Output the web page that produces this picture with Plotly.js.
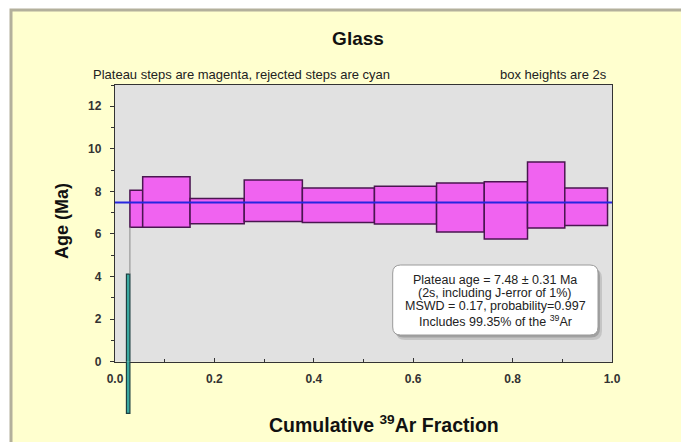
<!DOCTYPE html>
<html>
<head>
<meta charset="utf-8">
<script src="https://cdn.plot.ly/plotly-3.0.1.min.js"></script>
<style>html,body{margin:0;padding:0;background:#fff;}#chart{width:681px;height:442px;}</style>
</head>
<body>
<div id="chart"></div>
<script>
// ---- data ----
const plateauEdges = [0.030, 0.0557, 0.151, 0.260, 0.377, 0.522, 0.647, 0.743, 0.830, 0.905, 0.991];
const plateauLow   = [6.32, 6.32, 6.48, 6.59, 6.54, 6.47, 6.09, 5.77, 6.28, 6.40];
const plateauHigh  = [8.05, 8.69, 7.67, 8.54, 8.16, 8.24, 8.40, 8.46, 9.38, 8.16];
const rejectedEdges = [0.023, 0.030];
const rejectedLow   = [-2.43];
const rejectedHigh  = [4.11];
const plateauAge = 7.48;
const xTickVals = [0, 0.2, 0.4, 0.6, 0.8, 1.0];
const yTickVals = [0, 2, 4, 6, 8, 10, 12];
const boxLines = [
  'Plateau age = 7.48 ± 0.31 Ma',
  '(2s, including J-error of 1%)',
  'MSWD = 0.17, probability=0.997',
  'Includes 99.35% of the <sup>39</sup>Ar'
];

// ---- derived inputs for the library ----
function centers(e){ const c=[]; for(let i=0;i<e.length-1;i++) c.push((e[i]+e[i+1])/2); return c; }
function widths(e){ const w=[]; for(let i=0;i<e.length-1;i++) w.push(e[i+1]-e[i]); return w; }
function spans(lo,hi){ return hi.map((h,i)=>h-lo[i]); }

// ---- layout geometry helpers (pixels -> paper) ----
const M = {l:115, r:69, t:85, b:20};
const PW = 681 - M.l - M.r, PH = 442 - M.t - M.b;
const px = v => (v - M.l) / PW;
const py = v => (442 - M.b - v) / PH;
function rrect(x0,y0,x1,y1,r){
  const P=(x,y)=>px(x)+','+py(y);
  return 'M'+P(x0+r,y0)+' L'+P(x1-r,y0)+' Q'+P(x1,y0)+' '+P(x1,y0+r)+
         ' L'+P(x1,y1-r)+' Q'+P(x1,y1)+' '+P(x1-r,y1)+
         ' L'+P(x0+r,y1)+' Q'+P(x0,y1)+' '+P(x0,y1-r)+
         ' L'+P(x0,y0+r)+' Q'+P(x0,y0)+' '+P(x0+r,y0)+' Z';
}

const FONT = 'Liberation Sans, Arial, sans-serif';
const magenta = '#f063f0', magLine = '#4a1650';
const cyanFill = '#3aa8a0', cyanLine = '#1d3f40';

const traces = [
  {type:'bar', x:centers(plateauEdges), y:spans(plateauLow,plateauHigh), base:plateauLow,
   width:widths(plateauEdges), marker:{color:magenta, line:{color:magLine, width:1.5}},
   xaxis:'x', yaxis:'y', hoverinfo:'skip', showlegend:false},
  {type:'bar', x:centers(rejectedEdges), y:spans(rejectedLow,rejectedHigh), base:rejectedLow,
   width:widths(rejectedEdges), marker:{color:cyanFill, line:{color:cyanLine, width:1.2}},
   xaxis:'x', yaxis:'y', hoverinfo:'skip', showlegend:false},
  {type:'bar', x:centers(rejectedEdges), y:spans(rejectedLow,rejectedHigh), base:rejectedLow,
   width:widths(rejectedEdges), marker:{color:cyanFill, line:{color:cyanLine, width:1.2}},
   xaxis:'x2', yaxis:'y2', hoverinfo:'skip', showlegend:false},
  {type:'scatter', mode:'lines', x:[rejectedEdges[1], plateauEdges[0]], y:[rejectedHigh[0], plateauLow[0]],
   line:{color:'#8a8a8a', width:1}, xaxis:'x', yaxis:'y', hoverinfo:'skip', showlegend:false},
  {type:'scatter', mode:'lines', x:[0, 1], y:[plateauAge, plateauAge],
   line:{color:'#2626e0', width:2}, xaxis:'x', yaxis:'y', hoverinfo:'skip', showlegend:false}
];

const mainBottom = 361.7;
const yDomLo = py(mainBottom);
const unit = (mainBottom - M.t) / 13;
const lowerBottom = mainBottom + 2.6*unit;

const annotations = [
  {text:'Plateau steps are magenta, rejected steps are cyan', xref:'paper', yref:'paper',
   x:px(91), y:py(74), xanchor:'left', yanchor:'middle', showarrow:false,
   font:{family:FONT, size:13, color:'#222'}},
  {text:'box heights are 2s', xref:'paper', yref:'paper',
   x:px(609), y:py(74), xanchor:'right', yanchor:'middle', showarrow:false,
   font:{family:FONT, size:13, color:'#222'}},
  {text:'Cumulative <sup>39</sup>Ar Fraction', xref:'paper', yref:'paper',
   x:px(384), y:py(424), xanchor:'center', yanchor:'middle', showarrow:false,
   font:{family:FONT, size:19.5, color:'#111', weight:'bold'}},
  {text:'Age (Ma)', xref:'paper', yref:'paper', textangle:-90,
   x:px(62), y:py(221), xanchor:'center', yanchor:'middle', showarrow:false,
   font:{family:FONT, size:18, color:'#111', weight:'bold'}}
];
const lineY = [280, 293.3, 306.2, 320.5];
boxLines.forEach((t,i)=>annotations.push({text:t, xref:'paper', yref:'paper',
  x:px(495), y:py(lineY[i]), xanchor:'center', yanchor:'middle', showarrow:false,
  font:{family:FONT, size:12.5, color:'#222'}}));

const shapes = [
  // yellow panel with grey edge
  {type:'rect', xref:'paper', yref:'paper', x0:px(11), x1:px(720), y0:py(470), y1:py(10),
   fillcolor:'#ffffcf', line:{color:'#b3b09c', width:3}, layer:'below'},
  // grey plot area
  {type:'rect', xref:'x domain', yref:'y domain', x0:0, x1:1, y0:0, y1:1,
   fillcolor:'#e1e1e1', line:{width:0}, layer:'below'},
  // stats box shadow + box
  {type:'path', xref:'paper', yref:'paper', path:rrect(396,269,602,340,9),
   fillcolor:'rgba(0,0,0,0.12)', line:{width:0}, layer:'above'},
  {type:'path', xref:'paper', yref:'paper', path:rrect(394.5,267,600,337.5,9),
   fillcolor:'rgba(0,0,0,0.18)', line:{width:0}, layer:'above'},
  {type:'path', xref:'paper', yref:'paper', path:rrect(392.7,265,598,335,8),
   fillcolor:'#ffffff', line:{color:'#9a9a9a', width:1}, layer:'above'}
];

const tickFont = {family:FONT, size:12, color:'#333', weight:'bold'};
const layout = {
  width:681, height:442, margin:M,
  paper_bgcolor:'#ffffff', plot_bgcolor:'rgba(0,0,0,0)',
  barmode:'overlay', bargap:0, showlegend:false, hovermode:false,
  title:{text:'Glass', xref:'container', yref:'container', x:358/681, y:1-38/442,
         xanchor:'center', yanchor:'middle',
         font:{family:FONT, size:19, color:'#111', weight:'bold'}},
  xaxis:{domain:[0,1], range:[0,1], anchor:'y', tickvals:xTickVals, tickformat:'.1f',
         ticks:'inside', ticklen:4, tickcolor:'#333', tickfont:tickFont, ticklabelstandoff:6,
         minor:{dtick:0.1, tick0:0, ticks:'inside', ticklen:3, tickcolor:'#333', showgrid:false},
         showgrid:false, zeroline:false, showline:true, mirror:true, linecolor:'#333', linewidth:1.2},
  yaxis:{domain:[yDomLo,1], range:[0,13], anchor:'x', tickvals:yTickVals,
         ticks:'outside', ticklen:4, tickcolor:'#333', tickfont:tickFont, ticklabelstandoff:6,
         minor:{dtick:1, tick0:0, ticks:'outside', ticklen:3, tickcolor:'#333', showgrid:false},
         showgrid:false, zeroline:false, showline:true, mirror:true, linecolor:'#333', linewidth:1.2},
  xaxis2:{domain:[0,1], matches:'x', anchor:'y2', visible:false},
  yaxis2:{domain:[py(lowerBottom), yDomLo], range:[-2.6,0], anchor:'x2', visible:false},
  annotations:annotations, shapes:shapes
};

Plotly.newPlot('chart', traces, layout, {staticPlot:true, displayModeBar:false});
</script>
</body>
</html>
